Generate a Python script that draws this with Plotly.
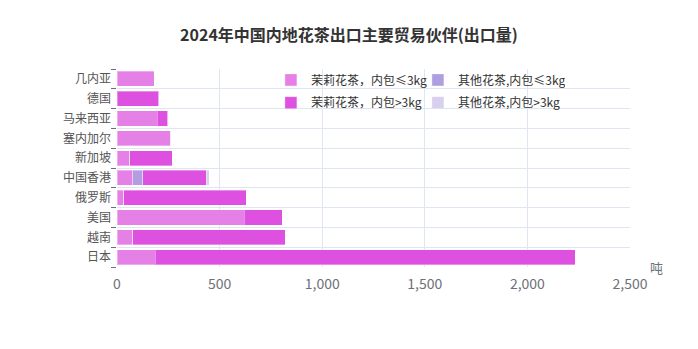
import plotly.graph_objects as go

# categories bottom -> top
countries = ["日本", "越南", "美国", "俄罗斯", "中国香港", "新加坡", "塞内加尔", "马来西亚", "德国", "几内亚"]
jasmine_small = [187, 76, 619, 33, 76, 62, 262, 196, 0, 181]
other_small = [0, 0, 0, 0, 49, 0, 0, 0, 0, 0]
jasmine_large = [2046, 744, 186, 598, 311, 207, 0, 51, 203, 0]
other_large = [0, 0, 0, 0, 13, 0, 0, 0, 0, 0]

series_names = ["茉莉花茶，内包≤3kg", "其他花茶,内包≤3kg", "茉莉花茶，内包>3kg", "其他花茶,内包>3kg"]
series_values = [jasmine_small, other_small, jasmine_large, other_large]
series_colors = ["rgb(228,128,230)", "rgb(176,158,224)", "rgb(222,80,224)", "rgb(216,208,238)"]
series_legend = ["legend", "legend", "legend2", "legend2"]

x_ticks = [0, 500, 1000, 1500, 2000, 2500]
x_tick_text = ["0", "500", "1,000", "1,500", "2,000", "2,500"]

FONT = "Noto Sans CJK SC, sans-serif"

fig = go.Figure()
for name, vals, col, lg in zip(series_names, series_values, series_colors, series_legend):
    fig.add_trace(go.Bar(
        y=countries, x=vals, name=name, orientation="h",
        marker=dict(color=col, line=dict(color="rgba(255,255,255,0.35)", width=1)),
        legend=lg,
    ))

fig.update_layout(
    width=698, height=349,
    margin=dict(l=117, r=68, t=69, b=82),
    barmode="stack", bargap=0.24,
    plot_bgcolor="white", paper_bgcolor="white",
    font=dict(family=FONT, color="#6e7079", size=12),
    title=dict(text="<b>2024年中国内地花茶出口主要贸易伙伴(出口量)</b>",
               x=0.5, xanchor="center", y=0.9, yanchor="middle",
               font=dict(size=16, color="#333333", family=FONT)),
    xaxis=dict(range=[0, 2500], tickvals=x_ticks, ticktext=x_tick_text,
               showgrid=True, gridcolor="#e0e6f1", gridwidth=1,
               zeroline=False, showline=False,
               ticks="outside", ticklen=4, tickcolor="rgba(0,0,0,0)",
               tickfont=dict(size=14, color="#6e7079")),
    yaxis=dict(categoryorder="array", categoryarray=countries,
               tickson="boundaries", showgrid=True, gridcolor="#e0e6f1",
               showline=False,
               ticks="outside", ticklen=5, tickcolor="#6e7079",
               ticklabelstandoff=5,
               tickfont=dict(size=12, color="#555555")),
    legend=dict(orientation="h", x=0.30, y=0.945, xanchor="left", yanchor="middle",
                bgcolor="rgba(0,0,0,0)", font=dict(size=12, color="#333333"),
                entrywidth=102, traceorder="normal"),
    legend2=dict(orientation="h", x=0.30, y=0.83, xanchor="left", yanchor="middle",
                 bgcolor="rgba(0,0,0,0)", font=dict(size=12, color="#333333"),
                 entrywidth=102, traceorder="normal"),
    showlegend=True,
)

fig.add_annotation(text="吨", xref="paper", yref="paper", x=1.035, y=0,
                   xanchor="left", yanchor="middle", showarrow=False,
                   font=dict(size=13, color="#6e7079", family=FONT))

fig.write_html("out.html")
